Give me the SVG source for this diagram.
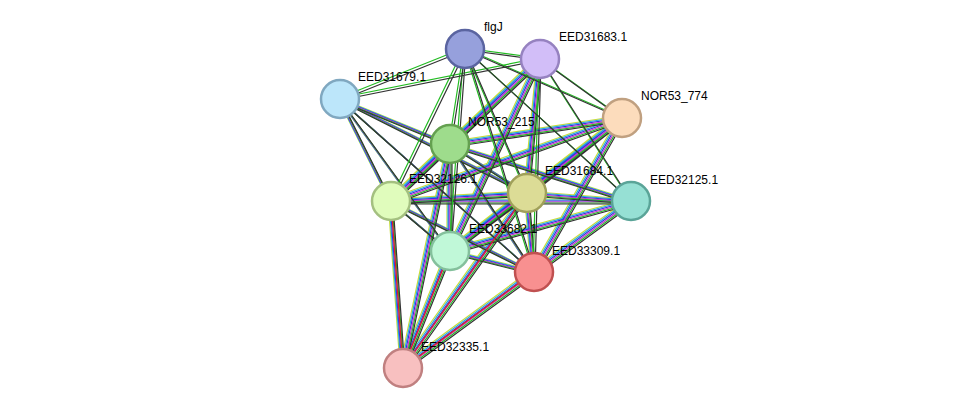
<svg xmlns="http://www.w3.org/2000/svg" xmlns:xlink="http://www.w3.org/1999/xlink" width="976" height="414" viewBox="0 0 976 414">
<style>
.e{fill:none;stroke-width:1.2}
.n{stroke-width:2.5}
text{font-family:"Liberation Sans",Arial,sans-serif;font-size:12px;fill:#000}
</style>
<defs>
<path id="rich" d="M391,201L527,193M391,201L450,251M391,201L534,272M391,201L450,144M391,201L631,201M391,201L403,368M450,251L527,193M450,251L534,272M450,251L450,144M450,251L631,201M450,251L403,368M527,193L534,272M527,193L450,144M527,193L631,201M534,272L450,144M534,272L631,201M534,272L403,368M527,193L403,368M450,144L631,201M340,99L450,144M340,99L391,201M340,99L527,193M340,99L450,251M340,99L534,272M450,144L403,368M540,59L450,144M540,59L527,193M540,59L391,201M540,59L450,251M622,118L450,144M622,118L527,193M622,118L391,201M622,118L534,272M622,118L450,251"/>
<path id="sparse" d="M465,49L540,59M465,49L340,99M465,49L622,118M465,49L450,144M465,49L391,201M465,49L527,193M465,49L631,201M465,49L450,251M465,49L534,272M540,59L340,99M540,59L622,118M540,59L631,201M540,59L534,272"/>
</defs>
<g id="connectors">
<use href="#rich" class="e" stroke="#c8dc3c" transform="translate(-3,-2)"/>
<use href="#rich" class="e" stroke="#22aadd" transform="translate(-2,-1)"/>
<use href="#rich" class="e" stroke="#3333dd" transform="translate(-1,0)"/>
<use href="#rich" class="e" stroke="#cc33cc" transform="translate(0,1)"/>
<use href="#rich" class="e" stroke="#22bb22" transform="translate(1,2)"/>
<use href="#rich" class="e" stroke="#333333" transform="translate(2,3)"/>
<use href="#sparse" class="e" stroke="#22bb22" transform="translate(-1,-1)"/>
<use href="#sparse" class="e" stroke="#333333" transform="translate(1,1)"/>
<path class="e" stroke="#dd2222" d="M391,201L403,368M450,251L403,368M527,193L403,368M534,272L403,368"/>
</g>
<g id="flgJ"><circle class="n" cx="465" cy="49" r="19" fill="#96a0dc" stroke="#5a64a0"/><text x="484" y="31">flgJ</text></g>
<g id="EED31683.1"><circle class="n" cx="540" cy="59" r="19" fill="#d2bef8" stroke="#9682c0"/><text x="559" y="41">EED31683.1</text></g>
<g id="EED31679.1"><circle class="n" cx="340" cy="99" r="19" fill="#bce6fa" stroke="#80a8c0"/><text x="358" y="81">EED31679.1</text></g>
<g id="NOR53_774"><circle class="n" cx="622" cy="118" r="19" fill="#fcdcbc" stroke="#c0a080"/><text x="641" y="100">NOR53_774</text></g>
<g id="NOR53_215"><circle class="n" cx="450" cy="144" r="19" fill="#9edc8c" stroke="#64a050"/><text x="468" y="126">NOR53_215</text></g>
<g id="EED32126.1"><circle class="n" cx="391" cy="201" r="19" fill="#e0fcbc" stroke="#a4c080"/><text x="409" y="183">EED32126.1</text></g>
<g id="EED31684.1"><circle class="n" cx="527" cy="193" r="19" fill="#dcdc96" stroke="#a0a05a"/><text x="545" y="175">EED31684.1</text></g>
<g id="EED32125.1"><circle class="n" cx="631" cy="201" r="19" fill="#96e0d4" stroke="#5aa498"/><text x="650" y="184">EED32125.1</text></g>
<g id="EED33682.1"><circle class="n" cx="450" cy="251" r="19" fill="#c0f8d8" stroke="#84c09c"/><text x="469" y="233">EED33682.1</text></g>
<g id="EED33309.1"><circle class="n" cx="534" cy="272" r="19" fill="#f89090" stroke="#c05050"/><text x="552" y="255">EED33309.1</text></g>
<g id="EED32335.1"><circle class="n" cx="403" cy="368" r="19" fill="#f8c0c0" stroke="#c08080"/><text x="421" y="351">EED32335.1</text></g>
</svg>
